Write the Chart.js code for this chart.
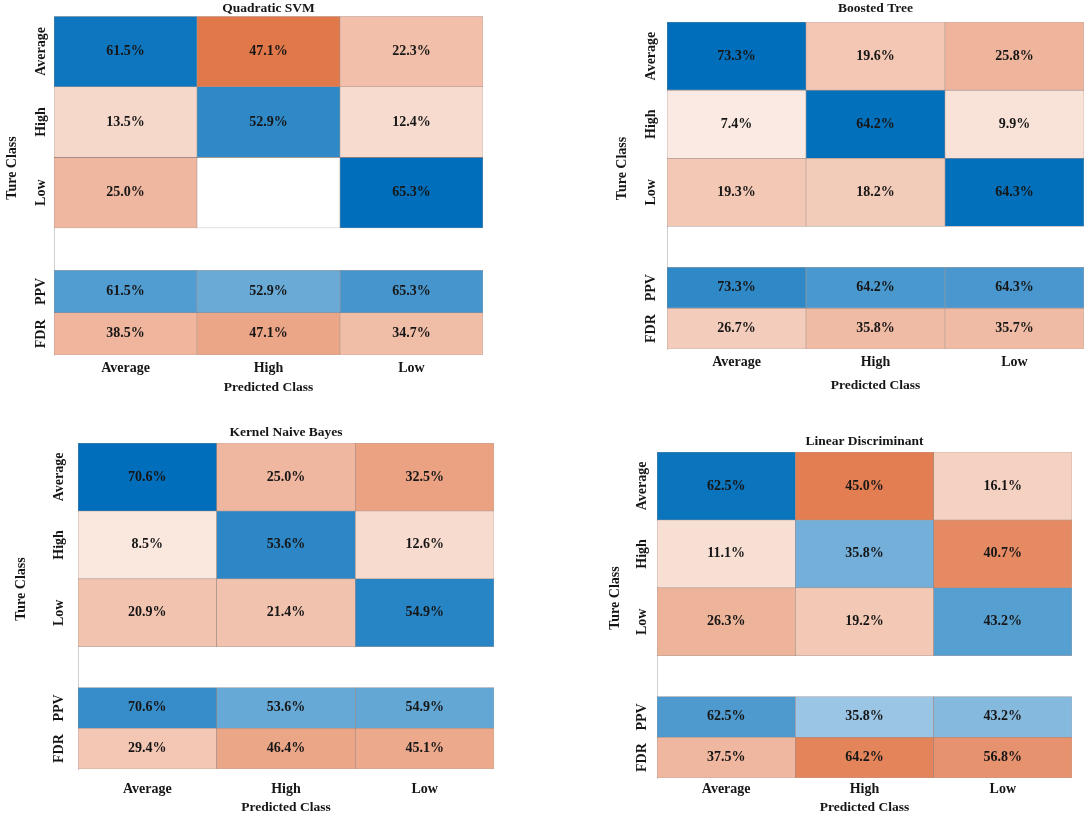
<!DOCTYPE html>
<html>
<head>
<meta charset="utf-8">
<title>Confusion matrices</title>
<script src="https://cdn.jsdelivr.net/npm/chart.js@4.4.1/dist/chart.umd.min.js"></script>
<style>
  html, body { margin: 0; padding: 0; background: #fff; overflow: hidden; }
  body { width: 1089px; height: 815px; position: relative; }
  .panel { position: absolute; }
</style>
</head>
<body>
<div class="panel" id="p0"><canvas id="c0"></canvas></div>
<div class="panel" id="p1"><canvas id="c1"></canvas></div>
<div class="panel" id="p2"><canvas id="c2"></canvas></div>
<div class="panel" id="p3"><canvas id="c3"></canvas></div>
<script>
// classes (rows = true class, columns = predicted class)
const classes = ['Average', 'High', 'Low'];
const summaryRows = ['PPV', 'FDR'];
const modelNames = ['Quadratic SVM', 'Boosted Tree', 'Kernel Naive Bayes', 'Linear Discriminant'];

// values in %, one array per true class row
const svmAverage = [61.5, 47.1, 22.3];
const svmHigh = [13.5, 52.9, 12.4];
const svmLow = [25.0, 0, 65.3];
const svmPPV = [61.5, 52.9, 65.3];
const svmFDR = [38.5, 47.1, 34.7];

const treeAverage = [73.3, 19.6, 25.8];
const treeHigh = [7.4, 64.2, 9.9];
const treeLow = [19.3, 18.2, 64.3];
const treePPV = [73.3, 64.2, 64.3];
const treeFDR = [26.7, 35.8, 35.7];

const bayesAverage = [70.6, 25.0, 32.5];
const bayesHigh = [8.5, 53.6, 12.6];
const bayesLow = [20.9, 21.4, 54.9];
const bayesPPV = [70.6, 53.6, 54.9];
const bayesFDR = [29.4, 46.4, 45.1];

const ldaAverage = [62.5, 45.0, 16.1];
const ldaHigh = [11.1, 35.8, 40.7];
const ldaLow = [26.3, 19.2, 43.2];
const ldaPPV = [62.5, 35.8, 43.2];
const ldaFDR = [37.5, 64.2, 56.8];

const models = [
  [svmAverage, svmHigh, svmLow, svmPPV, svmFDR],
  [treeAverage, treeHigh, treeLow, treePPV, treeFDR],
  [bayesAverage, bayesHigh, bayesLow, bayesPPV, bayesFDR],
  [ldaAverage, ldaHigh, ldaLow, ldaPPV, ldaFDR]
];

// layout of each panel on the page
const panels = [
  { left: 0,   top: 0,   w: 545, h: 400, area: { l: 54,  t: 16, r: 483, b: 355 }, titleY: 8,   colY: 368, xTitleY: 388, yTitleX: 12, rowGap: 13 },
  { left: 545, top: 0,   w: 544, h: 400, area: { l: 122, t: 22, r: 539, b: 349 }, titleY: 8.5, colY: 362, xTitleY: 386, yTitleX: 77, rowGap: 16 },
  { left: 0,   top: 400, w: 545, h: 420, area: { l: 78,  t: 43, r: 494, b: 369 }, titleY: 33,  colY: 389, xTitleY: 408, yTitleX: 21, rowGap: 19 },
  { left: 545, top: 400, w: 544, h: 420, area: { l: 112, t: 52, r: 527, b: 378 }, titleY: 42,  colY: 389, xTitleY: 408, yTitleX: 70, rowGap: 15 }
];

// y bands (in row units) : 3 class rows, gap, PPV, FDR
const bands = [[0, 1], [1, 2], [2, 3], [3.6, 4.2], [4.2, 4.8]];
const BLUE = [0, 110, 186];
const ORANGE = [217, 83, 25];
const FONT = '"Liberation Serif", "Times New Roman", serif';

function mix(base, t) {
  t = Math.max(0, Math.min(1, t));
  const c = base.map(v => Math.round(255 - (255 - v) * t));
  return 'rgb(' + c.join(',') + ')';
}

function cellColor(row, col, v) {
  if (row < 3) return row === col ? mix(BLUE, v / 65) : mix(ORANGE, v / 60);
  return row === 3 ? mix(BLUE, v / 90) : mix(ORANGE, v / 90);
}

function drawUp(ctx, text, x, y) {
  ctx.save();
  ctx.translate(x, y);
  ctx.rotate(-Math.PI / 2);
  ctx.fillText(text, 0, 0);
  ctx.restore();
}

const matrixText = {
  id: 'matrixText',
  afterDatasetsDraw(chart, args, opts) {
    const ctx = chart.ctx;
    ctx.save();
    ctx.fillStyle = '#161616';
    ctx.textAlign = 'center';
    ctx.textBaseline = 'middle';
    ctx.font = 'bold 14px ' + FONT;
    chart.data.datasets.forEach((ds, i) => {
      chart.getDatasetMeta(i).data.forEach((bar, j) => {
        const v = ds.values[j];
        if (!v) return;
        const p = bar.getCenterPoint();
        ctx.fillText(v.toFixed(1) + '%', p.x, p.y);
      });
    });
    const y = chart.scales.y;
    ctx.font = 'bold 14px ' + FONT;
    chart.data.datasets.forEach(ds => {
      drawUp(ctx, ds.label, chart.chartArea.left - opts.rowGap, y.getPixelForValue((ds.band[0] + ds.band[1]) / 2));
    });
    drawUp(ctx, 'Ture Class', opts.yTitleX, y.getPixelForValue(2.15));
    ctx.restore();
  }
};

panels.forEach((p, k) => {
  const box = document.getElementById('p' + k);
  box.style.left = p.left + 'px';
  box.style.top = p.top + 'px';
  const canvas = document.getElementById('c' + k);
  canvas.width = p.w;
  canvas.height = p.h;
  canvas.style.width = p.w + 'px';
  canvas.style.height = p.h + 'px';

  const rowNames = classes.concat(summaryRows);
  const datasets = models[k].map((vals, r) => ({
    label: rowNames[r],
    values: vals,
    band: bands[r],
    data: vals.map(() => bands[r]),
    backgroundColor: vals.map((v, c) => cellColor(r, c, v)),
    borderColor: 'rgba(120,95,88,0.6)',
    borderWidth: 0.6,
    borderSkipped: false
  }));

  const titlePadTop = Math.max(0, p.titleY - 8.1);
  const titlePadBottom = Math.max(0, p.area.t - titlePadTop - 16.2);

  new Chart(canvas, {
    type: 'bar',
    data: { labels: classes, datasets: datasets },
    plugins: [matrixText],
    options: {
      responsive: false,
      animation: false,
      layout: { padding: { left: 0, top: 0, bottom: 0, right: p.w - p.area.r } },
      datasets: { bar: { grouped: false, barPercentage: 1, categoryPercentage: 1 } },
      plugins: {
        legend: { display: false },
        tooltip: { enabled: false },
        title: {
          display: true,
          text: modelNames[k],
          fullSize: false,
          color: '#161616',
          font: { family: FONT, size: 13.5, weight: 'bold', lineHeight: 1.2 },
          padding: { top: titlePadTop, bottom: titlePadBottom }
        },
        matrixText: { rowGap: p.rowGap, yTitleX: p.yTitleX }
      },
      scales: {
        x: {
          grid: { display: false, drawTicks: false },
          border: { display: false },
          ticks: {
            color: '#161616',
            padding: p.colY - p.area.b - 8.4,
            font: { family: FONT, size: 14, weight: 'bold', lineHeight: 1.2 }
          },
          title: {
            display: true,
            text: 'Predicted Class',
            color: '#161616',
            font: { family: FONT, size: 13.5, weight: 'bold', lineHeight: 1.2 },
            padding: { top: 0, bottom: p.h - p.xTitleY - 8.1 }
          },
          afterFit(scale) { scale.height = p.h - p.area.b; }
        },
        y: {
          type: 'linear',
          min: 0,
          max: 4.8,
          reverse: true,
          grid: { display: false, drawTicks: false },
          border: { display: true, color: '#cfcfcf', width: 1 },
          ticks: { display: false },
          afterFit(scale) { scale.width = p.area.l; }
        }
      }
    }
  });
});
</script>
</body>
</html>
